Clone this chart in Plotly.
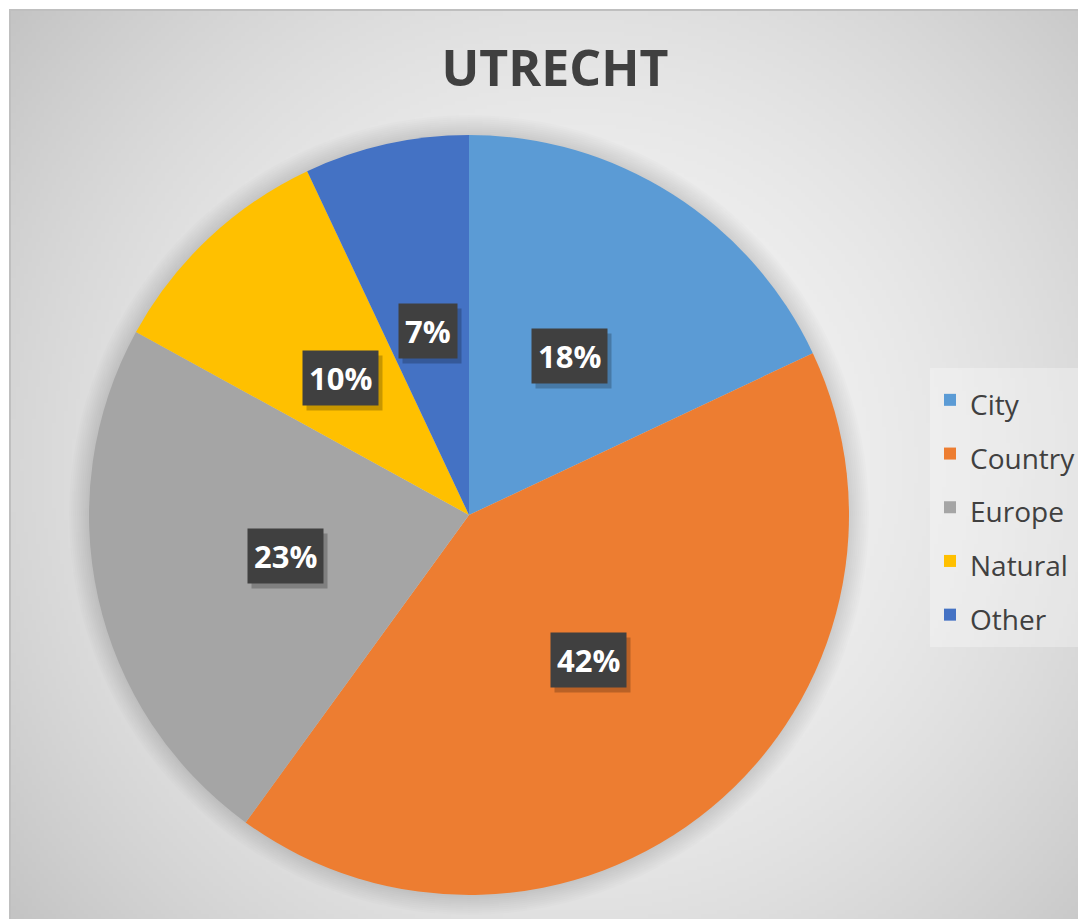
import math, zlib, struct, base64
import numpy as np
import plotly.graph_objects as go

# ---- data ----
categories = ["City", "Country", "Europe", "Natural", "Other"]
values = [18, 42, 23, 10, 7]
colors = ["#5B9BD5", "#ED7D31", "#A5A5A5", "#FFC000", "#4472C4"]
title_text = "UTRECHT"

OFF = 8                      # page body margin
W, H = 1086 - OFF, 919 - OFF  # figure size
CX, CY, R = 469, 515, 380    # pie center / radius in page px


def px_to_paper(x, y):
    return (x - OFF) / W, 1 - (y - OFF) / H


# ---- background radial gradient as PNG ----
def make_gradient_png(w, h, scale):
    ys, xs = np.mgrid[0:h, 0:w]
    X = 10 + xs * scale
    Y = 10 + ys * scale
    d = np.sqrt((X - 570) ** 2 + (Y - 460) ** 2)
    c = 246 - 50 * (d / 720.0) ** 1.8
    c = np.clip(c, 0, 255).astype(np.uint8)
    raw = b"".join(b"\x00" + c[i].tobytes() for i in range(h))
    def chunk(tag, data):
        return struct.pack(">I", len(data)) + tag + data + struct.pack(">I", zlib.crc32(tag + data) & 0xffffffff)
    png = b"\x89PNG\r\n\x1a\n"
    png += chunk(b"IHDR", struct.pack(">IIBBBBB", w, h, 8, 0, 0, 0, 0))
    png += chunk(b"IDAT", zlib.compress(raw, 9))
    png += chunk(b"IEND", b"")
    return "data:image/png;base64," + base64.b64encode(png).decode()

scale = 4
gw, gh = (1086 - 10) // scale + 1, (919 - 10) // scale + 1
bg_src = make_gradient_png(gw, gh, scale)

x0p, y1p = px_to_paper(CX - R, CY - R)
x1p, y0p = px_to_paper(CX + R, CY + R)

legend_labels = [f'<span style="font-size:28px">{c}</span>' for c in categories]

fig = go.Figure(go.Pie(
    labels=legend_labels,
    values=values,
    marker=dict(colors=colors, line=dict(width=0)),
    sort=False,
    direction="clockwise",
    rotation=0,
    textinfo="none",
    hoverinfo="label+percent",
    domain=dict(x=[x0p, x1p], y=[y0p, y1p]),
))

# ---- percentage labels with dark boxes ----
annotations = []
total = sum(values)
cum = 0
for v in values:
    mid = (cum + v / 2) / total
    cum += v
    th = 2 * math.pi * mid
    lx = CX + 0.495 * R * math.sin(th)
    ly = CY - 0.495 * R * math.cos(th)
    ax, ay = px_to_paper(lx, ly)
    pct = f"<b>{round(100 * v / total)}%</b>"
    common = dict(x=ax, y=ay, xref="paper", yref="paper", text=pct, showarrow=False,
                  xanchor="center", yanchor="middle", borderpad=6)
    # shadow
    annotations.append(dict(**common,
                            font=dict(family="Open Sans", size=31, color="rgba(0,0,0,0)"),
                            bgcolor="rgba(0,0,0,0.22)", xshift=4, yshift=-5))
    annotations.append(dict(**common,
                            font=dict(family="Open Sans", size=31, color="white"),
                            bgcolor="#404040"))

# ---- pie soft shadow rings ----
shapes = []
for k in range(1, 11):
    r = R + 2 * k
    sx0, sy1 = px_to_paper(CX - r, CY - r)
    sx1, sy0 = px_to_paper(CX + r, CY + r)
    shapes.append(dict(type="circle", xref="paper", yref="paper", x0=sx0, x1=sx1, y0=sy0, y1=sy1,
                       fillcolor="rgba(0,0,0,0.012)", line=dict(width=0), layer="below"))

# border of chart area (top & left visible)
bx0, by1 = px_to_paper(10, 10)
shapes.append(dict(type="rect", xref="paper", yref="paper", x0=bx0, x1=1.01, y0=-0.01, y1=by1,
                   line=dict(color="#BFBFBF", width=2), fillcolor="rgba(0,0,0,0)", layer="above"))

lx, ly = px_to_paper(930, 368)
tx, ty = px_to_paper(555, 68)

fig.update_layout(
    width=W, height=H, autosize=False,
    margin=dict(l=0, r=0, t=0, b=0),
    paper_bgcolor="white",
    plot_bgcolor="rgba(0,0,0,0)",
    font=dict(family="Open Sans", color="#404040"),
    title=dict(text=f"<b>{title_text}</b>", x=tx, y=ty, xanchor="center", yanchor="middle",
               xref="paper", yref="paper",
               font=dict(family="Open Sans", size=50, color="#404040")),
    showlegend=True,
    legend=dict(x=lx, y=ly, xanchor="left", yanchor="top",
                font=dict(family="Open Sans", size=39, color="#404040"),
                bgcolor="rgba(255,255,255,0.3)", borderwidth=0, traceorder="normal"),
    annotations=annotations,
    shapes=shapes,
    images=[dict(source=bg_src, xref="paper", yref="paper", x=bx0, y=by1,
                 sizex=1 - bx0 + 0.01, sizey=by1 + 0.01, xanchor="left", yanchor="top",
                 sizing="stretch", layer="below")],
)

fig.write_html("out.html")
